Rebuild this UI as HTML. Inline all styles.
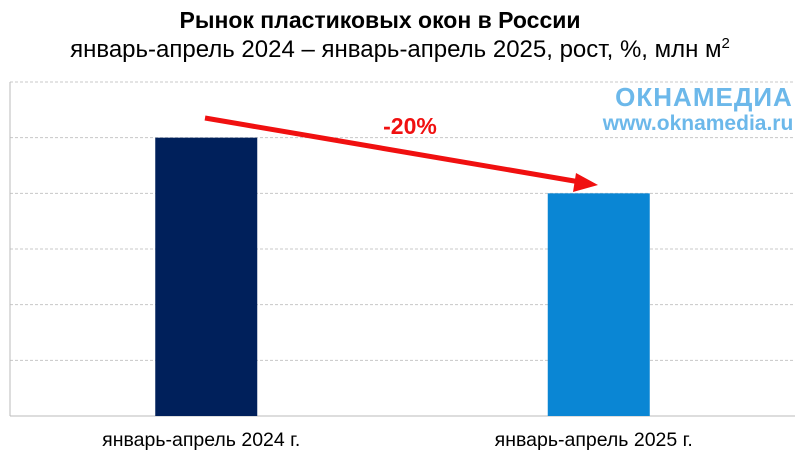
<!DOCTYPE html>
<html><head><meta charset="utf-8"><style>
body{margin:0;background:#fff;font-family:"Liberation Sans",sans-serif}
svg{display:block}
</style></head><body>
<svg width="800" height="452">
<text x="380" y="28" text-anchor="middle" font-size="23" font-weight="bold" fill="#000">Рынок пластиковых окон в России</text>
<text x="400" y="57" text-anchor="middle" font-size="24" fill="#000">январь-апрель 2024 – январь-апрель 2025, рост, %, млн м<tspan font-size="15" dy="-9">2</tspan></text>
<g id="grid"></g>
<line x1="10" y1="82" x2="10" y2="416" stroke="#bbb"/>
<g id="bars"></g>
<g id="labels"></g>
<g>
<text x="704" y="106" text-anchor="middle" font-size="26" font-weight="bold" fill="#6cb8ea" letter-spacing="1">ОКНАМЕДИА</text>
<text x="698" y="130" text-anchor="middle" font-size="21" font-weight="bold" fill="#6cb8ea">www.oknamedia.ru</text>
</g>
<line x1="205" y1="118" x2="580" y2="182" stroke="#f01010" stroke-width="5"/>
<polygon points="598,185 576,173 573,192" fill="#f01010"/>
<text x="410" y="134" text-anchor="middle" font-size="23" font-weight="bold" fill="#f01010">-20%</text>
</svg>
<script>
const categories=["январь-апрель 2024 г.","январь-апрель 2025 г."];
const values=[5,4];
const colors=["#00205b","#0a86d4"];
const yTicks=[0,1,2,3,4,5,6];
const L=10,R=795,T=82,B=416,yMax=6;
const y=v=>B-(v/yMax)*(B-T);
const bw=(R-L)/categories.length;
const xc=i=>L+bw*(i+0.5);
const NS="http://www.w3.org/2000/svg";
const g=document.getElementById('grid'),bg=document.getElementById('bars'),lg=document.getElementById('labels');
yTicks.forEach(t=>{
 const l=document.createElementNS(NS,'line');
 l.setAttribute('x1',L);l.setAttribute('x2',R);l.setAttribute('y1',y(t));l.setAttribute('y2',y(t));
 l.setAttribute('stroke',t===0?'#bbb':'#c8c8c8');
 if(t!==0)l.setAttribute('stroke-dasharray','3,2');
 
 
 g.appendChild(l);
});
categories.forEach((c,i)=>{
 const r=document.createElementNS(NS,'rect');
 r.setAttribute('x',xc(i)-51);r.setAttribute('width',102);
 r.setAttribute('y',y(values[i]));r.setAttribute('height',B-y(values[i]));
 r.setAttribute('fill',colors[i]);
 
 
 bg.appendChild(r);
 const t=document.createElementNS(NS,'text');
 t.setAttribute('x',xc(i)-5);t.setAttribute('y',446);t.setAttribute('text-anchor','middle');
 t.setAttribute('font-size','19.5');t.textContent=c;
 
 
 lg.appendChild(t);
});
</script>
</body></html>
